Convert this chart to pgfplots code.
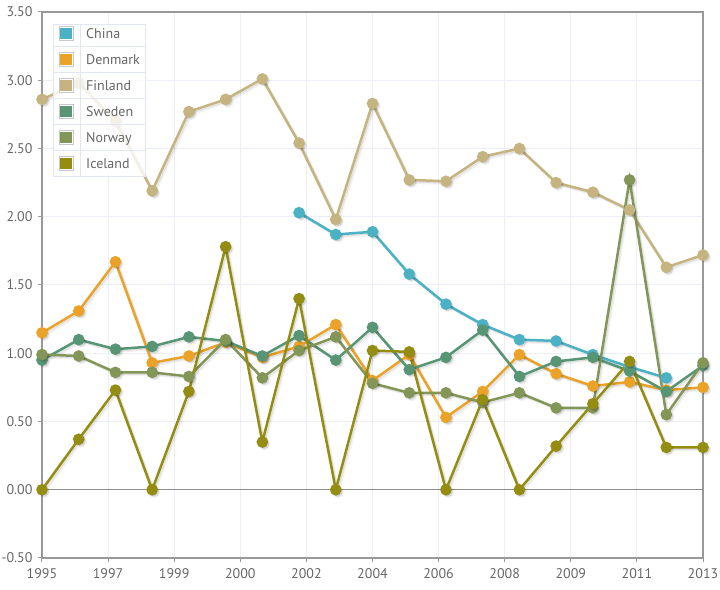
\documentclass[border=0pt]{standalone}
\usepackage{fontspec}
\setmainfont{PT Sans}
\usepackage{pgfplots}
\usepackage{pgfplotstable}
\pgfplotsset{compat=1.18}
\definecolor{cChina}{HTML}{4BB2C5}
\definecolor{cDenmark}{HTML}{EAA228}
\definecolor{cFinland}{HTML}{C5B47F}
\definecolor{cSweden}{HTML}{579575}
\definecolor{cNorway}{HTML}{839557}
\definecolor{cIceland}{HTML}{958C12}
\definecolor{gridc}{HTML}{ECEFF8}
\definecolor{legline}{HTML}{E1E6F1}
\definecolor{swb}{HTML}{C8C8C8}
\definecolor{tickc}{HTML}{666666}
\definecolor{borderc}{HTML}{999999}
\definecolor{zeroc}{HTML}{8C8C8C}

\pgfplotstableread{
year China Denmark Finland Sweden Norway Iceland
1995 nan 1.15 2.86 0.95 0.99 0.00
1996 nan 1.31 2.98 1.10 0.98 0.37
1997 nan 1.67 2.70 1.03 0.86 0.73
1998 nan 0.93 2.19 1.05 0.86 0.00
1999 nan 0.98 2.77 1.12 0.83 0.72
2000 nan 1.08 2.86 1.09 1.10 1.78
2001 nan 0.97 3.01 0.98 0.82 0.35
2002 2.03 1.05 2.54 1.13 1.02 1.40
2003 1.87 1.21 1.98 0.95 1.12 0.00
2004 1.89 0.80 2.83 1.19 0.78 1.02
2005 1.58 0.99 2.27 0.88 0.71 1.01
2006 1.36 0.53 2.26 0.97 0.71 0.00
2007 1.21 0.72 2.44 1.17 0.64 0.66
2008 1.10 0.99 2.50 0.83 0.71 0.00
2009 1.09 0.85 2.25 0.94 0.60 0.32
2010 0.99 0.76 2.18 0.97 0.60 0.63
2011 0.90 0.79 2.05 0.87 2.27 0.94
2012 0.82 0.73 1.63 0.72 0.55 0.31
2013 nan 0.75 1.72 0.91 0.93 0.31
}\data

\newcommand{\series}[2]{%
  \addplot[forget plot, black, opacity=0.05, line width=2.5pt, mark=*, mark size=4.5pt, mark options={draw=none}, xshift=2.5pt, yshift=-2.5pt] table[x=year,y=#1]{\data};
  \addplot[forget plot, black, opacity=0.08, line width=2.5pt, mark=*, mark size=4.5pt, mark options={draw=none}, xshift=1.25pt, yshift=-1.25pt] table[x=year,y=#1]{\data};
  \addplot[#2, line width=2.5pt, mark=*, mark size=4.5pt, mark options={draw=none}] table[x=year,y=#1]{\data};
}

\begin{document}
\begin{tikzpicture}
\useasboundingbox (0pt,0pt) rectangle (720pt,589pt);
\begin{axis}[
  at={(42pt,31pt)}, anchor=south west,
  width=661pt, height=546pt, scale only axis,
  xmin=1995, xmax=2013, ymin=-0.5, ymax=3.5,
  unbounded coords=jump,
  xtick={1995,1996.8,1998.6,2000.4,2002.2,2004,2005.8,2007.6,2009.4,2011.2,2013},
  xticklabels={1995,1997,1999,2000,2002,2004,2006,2008,2009,2011,2013},
  ytick={-0.5,0,0.5,1,1.5,2,2.5,3,3.5},
  /pgf/number format/assume math mode=true,
  yticklabel style={/pgf/number format/.cd, fixed, fixed zerofill, precision=2, /tikz/.cd, xshift=-2pt},
  xticklabel style={yshift=-3pt},
  ticklabel style={font=\fontsize{14}{16}\selectfont, color=tickc},
  tick align=outside, major tick length=4pt,
  tick style={borderc, line width=1pt},
  xtick pos=bottom, ytick pos=left,
  xmajorgrids, ymajorgrids,
  major grid style={gridc, line width=1pt},
  axis line style={borderc, line width=1.5pt},
  extra y ticks={0}, extra y tick labels={},
  extra y tick style={grid=major, major grid style={zeroc, line width=1.5pt}, major tick length=0pt},
]
\series{China}{cChina}
\series{Denmark}{cDenmark}
\series{Finland}{cFinland}
\series{Sweden}{cSweden}
\series{Norway}{cNorway}
\series{Iceland}{cIceland}
\end{axis}
% legend
\path[draw=legline, line width=0.8pt, fill=white, fill opacity=0.8] (53pt,564.7pt) rectangle (145pt,412.3pt);
\draw[legline, line width=0.8pt] (80pt,564.7pt) -- (80pt,412.3pt);
\foreach \yy in {542.3,516.3,490.3,464.3,438.3}
  \draw[legline, line width=0.8pt] (53pt,\yy pt) -- (145pt,\yy pt);
\foreach \nm/\cc [count=\i from 0] in {China/cChina, Denmark/cDenmark, Finland/cFinland, Sweden/cSweden, Norway/cNorway, Iceland/cIceland} {
  \pgfmathsetmacro{\yc}{555.7-26*\i}
  \pgfmathsetmacro{\ya}{\yc-7}
  \pgfmathsetmacro{\yb}{\yc+7}
  \pgfmathsetmacro{\yia}{\yc-5.6}
  \pgfmathsetmacro{\yib}{\yc+5.6}
  \pgfmathsetmacro{\ybase}{\yc-5}
  \draw[swb, line width=0.8pt, fill=white] (59pt,\ya pt) rectangle (73pt,\yb pt);
  \fill[\cc] (60.4pt,\yia pt) rectangle (71.6pt,\yib pt);
  \node[anchor=base west, inner sep=0pt, font=\fontsize{14}{16}\selectfont, text=tickc] at (86pt,\ybase pt) {\nm};
}
\end{tikzpicture}
\end{document}
